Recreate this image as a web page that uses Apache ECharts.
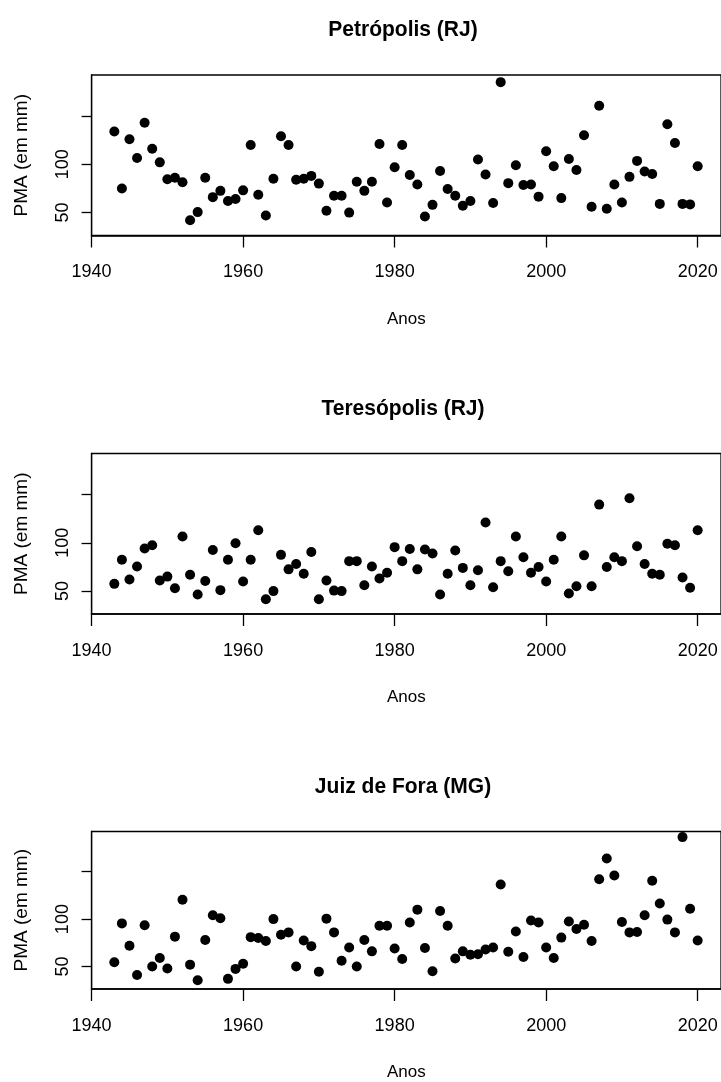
<!DOCTYPE html>
<html>
<head>
<meta charset="utf-8">
<script src="https://cdn.jsdelivr.net/npm/echarts@6/dist/echarts.min.js"></script>
<style>
html,body{margin:0;padding:0;background:#fff;}
#chart{width:721px;height:1082px;}
</style>
</head>
<body>
<div id="chart"></div>
<script>
const years = [1943,1944,1945,1946,1947,1948,1949,1950,1951,1952,
  1953,1954,1955,1956,1957,1958,1959,1960,1961,1962,
  1963,1964,1965,1966,1967,1968,1969,1970,1971,1972,
  1973,1974,1975,1976,1977,1978,1979,1980,1981,1982,
  1983,1984,1985,1986,1987,1988,1989,1990,1991,1992,
  1993,1994,1995,1996,1997,1998,1999,2000,2001,2002,
  2003,2004,2005,2006,2007,2008,2009,2010,2011,2012,
  2013,2014,2015,2016,2017,2018,2019,2020];

const petropolis = [134,75,126,106.5,143,116,102,84.5,86,81.5,
  42,50.5,86,66,72.5,62,64,73,120,68.5,
  47,85,129,120,84,85,88,80,52,67.5,
  67.5,50,82,72.5,82,121,60.5,97,120,89,
  79,46,58,93,74.5,67.5,57,62,105,89.5,
  60,185,80.5,99,78.5,79,66.5,113.5,98,65,
  105.5,94,130,56,160.5,54,79,60.5,87,103.5,
  92.5,90,59,141.5,122,59,58.5,98];

const teresopolis = [57.5,82.5,62,75.5,94,97.5,61,65,53,106.5,
  67,46.5,60.5,92.5,51,82.5,99.5,60,82.5,113,
  41.5,50,87.5,72.5,78,68,90.5,41.5,61,50.5,
  50,81,81,56,75.5,63,69,95.5,81,93.5,
  72.5,93,89,46.5,68,92,74,56,71.5,121,
  54,81,70.5,106.5,85,69,75,60,82.5,106.5,
  47.5,55,87,55,139.5,75,85,81,146,96.5,
  78,68,67,99,97.5,64,53.5,113];

const juizDeFora = [54.5,95.5,72,41,93.5,50,59,48,81.5,120.5,
  52,35.5,78,104,101,37,47.5,53,81,80,
  77,100,83.5,86,50,77.5,71.5,44.5,100.5,86,
  56,70,50,78,66,93,93,69,58,96.5,
  110,69.5,45,108.5,93,58.5,66,62.5,63,68,
  70,136.5,65.5,87,60,98.5,96.5,70,59,80.5,
  97.5,89.5,94,77,142,164,146,97,86,86.5,
  104,140.5,116.5,99.5,86,186.5,111,77.5];

const titles = ['Petrópolis (RJ)', 'Teresópolis (RJ)', 'Juiz de Fora (MG)'];
const xTicks = [1940,1960,1980,2000,2020];
const yTicks = [50,100,150];
const yTickLabels = [50,100];
const xName = 'Anos';
const yName = 'PMA (em mm)';

const FONT = '"Liberation Sans", Arial, Helvetica, sans-serif';
const TICK_FS = 18;
const TITLE_FS = 22;
const XNAME_FS = 17;
const YNAME_FS = 19;

const seriesData = [petropolis, teresopolis, juizDeFora];
const gridTops = [75, 453.5, 831.5];
const GRID_H = 160.5;
const GRID_LEFT = 91.6;
const X_MIN = 1940, X_MAX = 2023.08;
const PX_PER_YEAR = 7.59;
const Y_MIN = 26.3, Y_MAX = 192.4;

const grids = [], xAxes = [], yAxes = [], series = [], graphics = [];
for (let i = 0; i < 3; i++) {
  grids.push({left: GRID_LEFT, top: gridTops[i], width: (X_MAX - X_MIN) * PX_PER_YEAR, height: GRID_H,
    show: true, borderColor: '#000', borderWidth: 1.3, backgroundColor: 'transparent'});
  xAxes.push({type: 'value', gridIndex: i, min: X_MIN, max: X_MAX,
    axisLine: {show: true, lineStyle: {color: '#000', width: 1.6}},
    axisTick: {show: true, length: 12, customValues: xTicks, lineStyle: {color: '#000', width: 1.3}},
    axisLabel: {show: true, customValues: xTicks, margin: 28, color: '#000', fontSize: TICK_FS, fontFamily: FONT,
      formatter: v => String(v)},
    splitLine: {show: false},
    name: xName, nameLocation: 'middle', nameGap: 75,
    nameTextStyle: {color: '#000', fontSize: XNAME_FS, fontFamily: FONT}});
  yAxes.push({type: 'value', gridIndex: i, min: Y_MIN, max: Y_MAX,
    axisLine: {show: true, lineStyle: {color: '#000', width: 1.3}},
    axisTick: {show: true, length: 10, customValues: yTicks, lineStyle: {color: '#000', width: 1.3}},
    axisLabel: {show: true, customValues: yTickLabels, rotate: 90, margin: 20, color: '#000', fontSize: TICK_FS, fontFamily: FONT,
      formatter: v => String(v)},
    splitLine: {show: false},
    name: yName, nameLocation: 'middle', nameGap: 60,
    nameTextStyle: {color: '#000', fontSize: YNAME_FS, fontFamily: FONT}});
  series.push({type: 'scatter', xAxisIndex: i, yAxisIndex: i, symbol: 'circle', symbolSize: 10,
    itemStyle: {color: '#000', opacity: 1}, silent: true, animation: false,
    data: years.map((y, k) => [y, seriesData[i][k]])});
  graphics.push({type: 'text', x: 403, y: gridTops[i] - 45, scaleX: 0.955, style: {text: titles[i], textAlign: 'center', textVerticalAlign: 'middle',
    font: 'bold ' + TITLE_FS + 'px ' + FONT, fill: '#000'}});
}

const chart = echarts.init(document.getElementById('chart'), null, {renderer: 'canvas'});
chart.setOption({animation: false, backgroundColor: '#fff', grid: grids, xAxis: xAxes, yAxis: yAxes, series: series, graphic: graphics});
</script>
</body>
</html>
